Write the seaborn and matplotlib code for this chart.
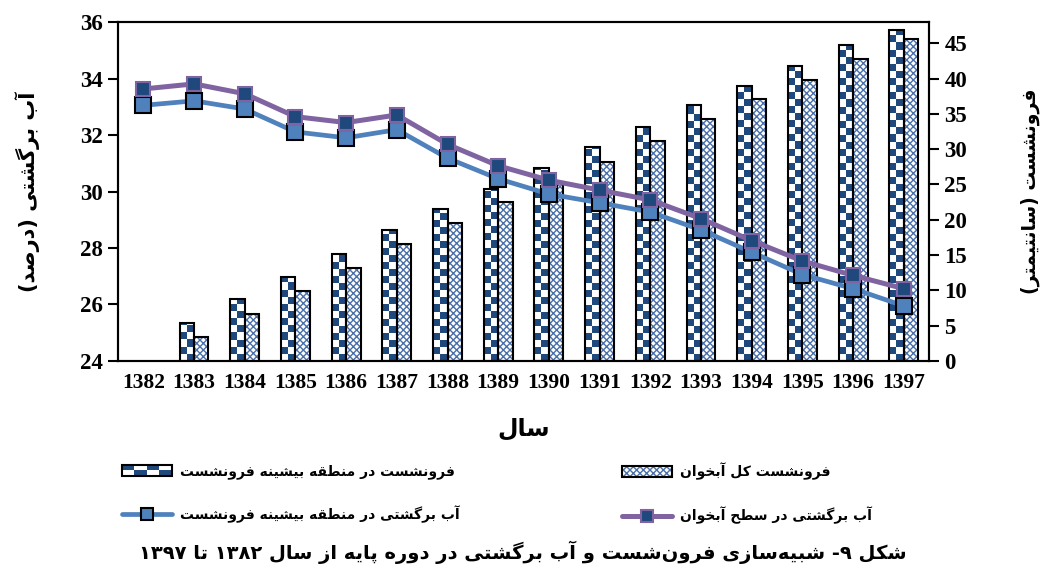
import re
import numpy as np
import pandas as pd
import matplotlib
matplotlib.use("Agg")
import matplotlib.pyplot as plt
import seaborn as sns
from matplotlib.colors import ListedColormap
from matplotlib.patches import Rectangle
from matplotlib.lines import Line2D
from matplotlib.legend_handler import HandlerBase

# ---------------- data ----------------
years = ['1382', '1383', '1384', '1385', '1386', '1387', '1388', '1389',
         '1390', '1391', '1392', '1393', '1394', '1395', '1396', '1397']
subs_max = [0, 5.4, 8.8, 11.9, 15.1, 18.5, 21.5, 24.4, 27.3, 30.3, 33.2,
            36.2, 39.0, 41.8, 44.7, 46.9]
subs_total = [0, 3.4, 6.7, 9.9, 13.2, 16.5, 19.6, 22.5, 25.3, 28.2, 31.2,
              34.2, 37.1, 39.8, 42.7, 45.6]
ret_surface = [33.63, 33.81, 33.46, 32.65, 32.44, 32.71, 31.67, 30.91,
               30.40, 30.05, 29.70, 29.04, 28.26, 27.54, 27.03, 26.56]
ret_zone = [33.05, 33.21, 32.92, 32.11, 31.90, 32.19, 31.18, 30.45,
            29.91, 29.60, 29.27, 28.64, 27.85, 27.06, 26.56, 25.95]

lab_max = 'فرونشست در منطقه بیشینه فرونشست'
lab_total = 'فرونشست کل آبخوان'
lab_zone = 'آب برگشتی در منطقه بیشینه فرونشست'
lab_surface = 'آب برگشتی در سطح آبخوان'
ylabel_left = 'آب برگشتی (درصد)'
ylabel_right = 'فرونشست (سانتیمتر)'
xlabel = 'سال'
caption = 'شکل ۹- شبیه\u200cسازی فرون\u200cشست و آب برگشتی در دوره پایه از سال ۱۳۸۲ تا ۱۳۹۷'

# ---------------- minimal Persian shaping ----------------
_FORMS = {
    '\u0627': (0xFE8D, False), '\u0622': (0xFE81, False), '\u062F': (0xFEA9, False),
    '\u0630': (0xFEAB, False), '\u0631': (0xFEAD, False), '\u0632': (0xFEAF, False),
    '\u0698': (0xFB8A, False), '\u0648': (0xFEED, False),
    '\u0628': (0xFE8F, True), '\u067E': (0xFB56, True), '\u062A': (0xFE95, True),
    '\u062B': (0xFE99, True), '\u062C': (0xFE9D, True), '\u0686': (0xFB7A, True),
    '\u062D': (0xFEA1, True), '\u062E': (0xFEA5, True), '\u0633': (0xFEB1, True),
    '\u0634': (0xFEB5, True), '\u0635': (0xFEB9, True), '\u0636': (0xFEBD, True),
    '\u0637': (0xFEC1, True), '\u0638': (0xFEC5, True), '\u0639': (0xFEC9, True),
    '\u063A': (0xFECD, True), '\u0641': (0xFED1, True), '\u0642': (0xFED5, True),
    '\u06A9': (0xFB8E, True), '\u06AF': (0xFB92, True), '\u0644': (0xFEDD, True),
    '\u0645': (0xFEE1, True), '\u0646': (0xFEE5, True), '\u0647': (0xFEE9, True),
    '\u06CC': (0xFBFC, True),
}


def fa(text):
    out = []
    n = len(text)
    for i, c in enumerate(text):
        if c == '\u200c':
            continue
        if c not in _FORMS:
            out.append(c)
            continue
        base, dual = _FORMS[c]
        prev = text[i - 1] if i > 0 else ''
        nxt = text[i + 1] if i + 1 < n else ''
        jp = prev in _FORMS and _FORMS[prev][1]
        jn = dual and nxt in _FORMS
        if dual:
            idx = 3 if (jp and jn) else 1 if jp else 2 if jn else 0
        else:
            idx = 1 if jp else 0
        out.append(chr(base + idx))
    s = ''.join(out)[::-1]
    s = re.sub(r'[0-9\u06F0-\u06F9]+', lambda m: m.group(0)[::-1], s)
    return s.translate(str.maketrans('()', ')('))


# ---------------- style ----------------
navy = '#1F497D'
blue = '#4F81BD'
purple = '#8064A2'
hatch_blue = '#4A70AA'
FA = 'DejaVu Sans'

sns.set_style('white')
plt.rcParams['font.family'] = ['Liberation Serif', 'DejaVu Sans']
plt.rcParams['font.weight'] = 'bold'
plt.rcParams['hatch.linewidth'] = 1.0
for k in ('text.color', 'axes.labelcolor', 'xtick.color', 'ytick.color', 'axes.edgecolor'):
    plt.rcParams[k] = 'black'

fig = plt.figure(figsize=(10.46, 5.66), dpi=100)
ax = fig.add_axes([0.1128, 0.3622, 0.7755, 0.5989])
ax2 = ax.twinx()
ax.set_zorder(3)
ax.patch.set_visible(False)

# ---------------- bars (right axis) ----------------
df = pd.DataFrame({
    'year': years * 2,
    'value': subs_max + subs_total,
    'series': ['max'] * len(years) + ['total'] * len(years),
})
sns.barplot(data=df, x='year', y='value', hue='series', hue_order=['max', 'total'],
            palette=['white', 'white'], saturation=1, width=0.57, errorbar=None,
            edgecolor='black', linewidth=1.5, legend=False, ax=ax2)

ax2.set_xlim(-0.5, len(years) - 0.5)
ax2.set_ylim(0, 48)

cell = 1.0  # checker cell height in data units
cmap = ListedColormap(['white', navy])
for p in ax2.containers[0]:
    h = p.get_height()
    p.set_facecolor('none')
    p.set_zorder(2)
    if not h or h <= 0:
        p.set_visible(False)
        continue
    x0, w = p.get_x(), p.get_width()
    nrow = int(np.ceil(h / cell))
    arr = np.add.outer(np.arange(nrow), np.arange(2)) % 2
    im = ax2.imshow(arr, cmap=cmap, vmin=0, vmax=1, origin='lower', aspect='auto',
                    interpolation='nearest', extent=(x0, x0 + w, 0, nrow * cell),
                    zorder=1.5)
    im.set_clip_path(p)

for p in ax2.containers[1]:
    h = p.get_height()
    if not h or h <= 0:
        p.set_visible(False)
        continue
    p.set_facecolor('white')
    p.set_edgecolor(hatch_blue)
    p.set_hatch('xxxxx')
    p.set_linewidth(0)
    p.set_zorder(1.5)
    outline = Rectangle((p.get_x(), p.get_y()), p.get_width(), h, facecolor='none',
                        edgecolor='black', linewidth=1.5, zorder=2)
    ax2.add_patch(outline)

ax2.set_xlim(-0.5, len(years) - 0.5)
ax2.set_ylim(0, 48)
ax2.set_yticks(range(0, 46, 5))
ax2.set_ylabel(fa(ylabel_right), family=FA, fontsize=13.5, fontweight='bold',
               rotation=90, ha='center', va='center')
ax2.yaxis.set_label_coords(1.1245, 0.5)

# ---------------- lines (left axis) ----------------
sns.lineplot(x=years, y=ret_zone, ax=ax, color=blue, lw=3.4, marker='s', ms=11.5,
             markerfacecolor=blue, markeredgecolor='black', markeredgewidth=1.5,
             sort=False, zorder=4)
sns.lineplot(x=years, y=ret_surface, ax=ax, color=purple, lw=3.6, marker='s', ms=9.5,
             markerfacecolor=navy, markeredgecolor=purple, markeredgewidth=1.5,
             sort=False, zorder=5)
ax.set_ylim(24, 36)
ax.set_yticks(range(24, 37, 2))
ax.set_xlim(-0.5, len(years) - 0.5)
ax.set_ylabel(fa(ylabel_left), family=FA, fontsize=15, fontweight='bold',
              ha='center', va='center')
ax.yaxis.set_label_coords(-0.111, 0.5)
ax.set_xlabel(fa(xlabel), family=FA, fontsize=17, fontweight='bold',
              ha='center', va='center')
ax.xaxis.set_label_coords(0.5, -0.198)

for a in (ax, ax2):
    for s in a.spines.values():
        s.set_linewidth(1.5)
        s.set_color('black')
ax.tick_params(axis='y', direction='out', length=7, width=1.5, labelsize=16.5, pad=4)
ax2.tick_params(axis='y', direction='out', length=7, width=1.5, labelsize=16.5, pad=4)
ax.tick_params(axis='x', length=0, labelsize=15.5, pad=9)
for lbl in ax.get_xticklabels() + ax.get_yticklabels() + ax2.get_yticklabels():
    lbl.set_fontweight('bold')


# ---------------- legend ----------------
class CheckerHandler(HandlerBase):
    def create_artists(self, legend, orig, xd, yd, width, height, fontsize, trans):
        arts = []
        ncol, nrow = 4, 2
        cw, ch = width / ncol, height / nrow
        for i in range(ncol):
            for j in range(nrow):
                if (i + j) % 2 == 1:
                    arts.append(Rectangle((-xd + i * cw, -yd + j * ch), cw, ch,
                                          facecolor=navy, edgecolor='none', transform=trans))
        arts.append(Rectangle((-xd, -yd), width, height, facecolor='none',
                              edgecolor='black', lw=1.5, transform=trans))
        return arts


class HatchHandler(HandlerBase):
    def create_artists(self, legend, orig, xd, yd, width, height, fontsize, trans):
        r = Rectangle((-xd, -yd), width, height, facecolor='white', edgecolor=hatch_blue,
                      hatch='xxxxx', lw=0, transform=trans)
        o = Rectangle((-xd, -yd), width, height, facecolor='none', edgecolor='black',
                      lw=1.5, transform=trans)
        return [r, o]


h_max = Rectangle((0, 0), 1, 1)
h_total = Rectangle((0, 0), 1, 1)
h_zone = Line2D([], [], color=blue, lw=3.4, marker='s', ms=9, markerfacecolor=blue,
                markeredgecolor='black', markeredgewidth=1.5)
h_surface = Line2D([], [], color=purple, lw=3.6, marker='s', ms=8, markerfacecolor=navy,
                   markeredgecolor=purple, markeredgewidth=1.5)

leg_kw = dict(frameon=False, loc='center left', borderpad=0, borderaxespad=0,
              handlelength=3.6, handleheight=0.8, handletextpad=0.6, labelspacing=1.9,
              prop={'family': FA, 'weight': 'bold', 'size': 10})
leg1 = fig.legend([h_max, h_zone], [fa(lab_max), fa(lab_zone)],
                  bbox_to_anchor=(0.1166, 0.128),
                  handler_map={h_max: CheckerHandler()}, **leg_kw)
leg2 = fig.legend([h_total, h_surface], [fa(lab_total), fa(lab_surface)],
                  bbox_to_anchor=(0.5946, 0.128),
                  handler_map={h_total: HatchHandler()}, **leg_kw)

fig.text(0.5, 1 - 552 / 566, fa(caption), family=FA, fontsize=14, fontweight='bold',
         ha='center', va='center')

fig.savefig('out.png', dpi=100)
